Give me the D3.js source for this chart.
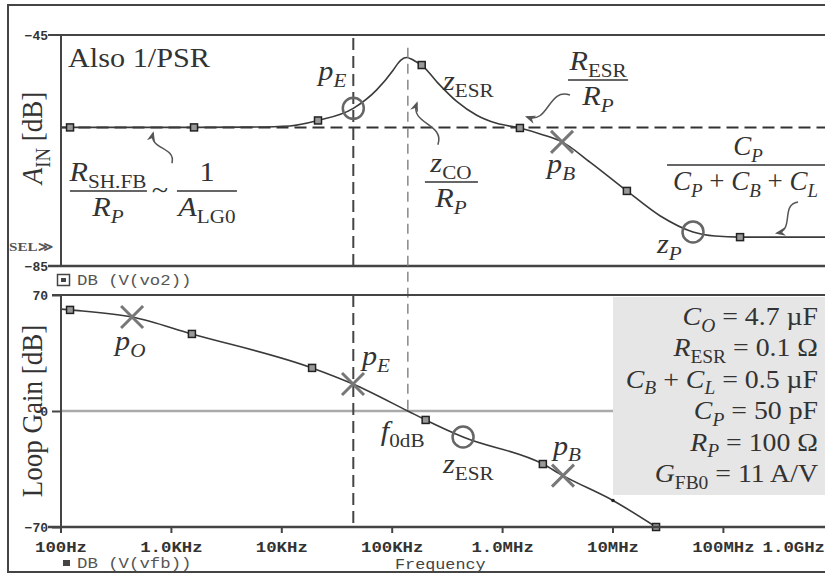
<!DOCTYPE html>
<html>
<head>
<meta charset="utf-8">
<script src="https://cdn.jsdelivr.net/npm/d3@7"></script>
<style>
  body { margin: 0; background: #fff; }
  svg { display: block; }
</style>
</head>
<body>
<svg id="chart" width="825" height="574"></svg>
<script>
// ---- frequency axis ----
const freqTicks = [1e2, 1e3, 1e4, 1e5, 1e6, 1e7, 1e8, 1e9];
const freqTickLabels = ["100Hz", "1.0KHz", "10KHz", "100KHz", "1.0MHz", "10MHz", "100MHz", "1.0GHz"];

// ---- A_IN (also 1/PSR), dB ----
const ainFreq = [100, 122, 1620, 5000, 12000, 21500, 44900, 73100, 103000, 113000, 122000, 137000,
                 152000, 165000, 187000, 256000, 388000, 589000, 893000, 1450000, 2360000, 3490000,
                 6250000, 13500000, 26900000, 53600000, 84800000, 143000000, 1e9];
const ainDb = [-61, -61, -61, -60.95, -60.75, -59.8, -57.7, -54.5, -51.1, -50.0, -49.3, -48.9,
               -49.2, -49.6, -50.2, -53.1, -56.5, -58.9, -60.3, -61.1, -62.3, -63.5,
               -67, -72, -76.3, -79.1, -79.8, -80, -80];
const ainSquareIdx = [1, 2, 5, 14, 19, 23, 27];
const ainCircleIdx = [6, 25];
const ainCrossIdx = [21];
const ainTicks = [-45, -85];
const ainRefDb = -61;

// ---- loop gain, dB ----
const lgFreq = [100, 122, 445, 1550, 19000, 44600, 140000, 203000, 443000, 2340000, 3560000, 10100000, 24800000];
const lgDb = [61.5, 61, 56.7, 46.5, 26, 16.3, 0, -5.4, -15.7, -32, -39, -54, -70];
const lgSquareIdx = [1, 3, 4, 7, 9, 12];
const lgDotIdx = [11];
const lgCircleIdx = [8];
const lgCrossIdx = [2, 5, 10];
const lgTicks = [70, 0, -70];

// frequencies of the two vertical guides
const fPE = 44900;
const f0dB = 140000;

// circuit parameters listed in the shaded box
const paramRows = [
  [["C", "i"], ["O", "si"], [" = 4.7 µF", "r"]],
  [["R", "i"], ["ESR", "sr"], [" = 0.1 Ω", "r"]],
  [["C", "i"], ["B", "si"], [" + ", "r"], ["C", "i"], ["L", "si"], [" = 0.5 µF", "r"]],
  [["C", "i"], ["P", "si"], [" = 50 pF", "r"]],
  [["R", "i"], ["P", "si"], [" = 100 Ω", "r"]],
  [["G", "i"], ["FB0", "sr"], [" = 11 A/V", "r"]]
];

// ---------------------------------------------------------------
const svg = d3.select("#chart");
const SERIF = "'Liberation Serif', 'Times New Roman', serif";
const MONO = "'Liberation Mono', 'Courier New', monospace";
const SX = 1.12;       // horizontal text stretch
const INK = "#333";

const x = d3.scaleLog().domain([1e2, 1e9]).range([60.5, 833.3]);
const yT = d3.scaleLinear().domain([-85, -45]).range([266, 35]);
const yB = d3.scaleLinear().domain([-70, 70]).range([527, 295]);

svg.append("rect").attr("width", 825).attr("height", 574).attr("fill", "#fff");

const defs = svg.append("defs");
defs.append("clipPath").attr("id", "clipB")
  .append("rect").attr("x", 61).attr("y", 295).attr("width", 780).attr("height", 232);
defs.append("clipPath").attr("id", "clipT")
  .append("rect").attr("x", 61).attr("y", 35).attr("width", 780).attr("height", 231);
defs.append("marker").attr("id", "arrow")
  .attr("viewBox", "0 0 10 10").attr("refX", 8).attr("refY", 5)
  .attr("markerWidth", 7).attr("markerHeight", 7).attr("orient", "auto-start-reverse")
  .append("path").attr("d", "M0,1 L10,5 L0,9 L3,5 Z").attr("fill", "#555");

// math-style text: parts = [[text, kind]], kind i / r / si / sr
function mathText(parent, px, py, parts, opt = {}) {
  const size = opt.size || 27;
  const sx = opt.sx || SX;
  const t = parent.append("text")
    .attr("transform", opt.transform || `translate(${px},${py}) scale(${sx},1)`)
    .attr("text-anchor", opt.anchor || "start")
    .style("font-family", SERIF).style("font-size", size + "px")
    .attr("fill", opt.fill || INK);
  let sub = false;
  parts.forEach(([s, kind]) => {
    const isSub = kind[0] === "s";
    const ts = t.append("tspan").text(s)
      .style("font-style", kind.endsWith("i") ? "italic" : "normal")
      .style("font-size", (isSub ? size * 0.7 : size) + "px");
    if (isSub !== sub) { ts.attr("dy", isSub ? size * 0.25 : -size * 0.25); sub = isSub; }
  });
  return t;
}

function fraction(parent, cx, ly, x0, x1, num, den, opt = {}) {
  mathText(parent, cx, ly - 10, num, { anchor: "middle", sx: opt.sx });
  mathText(parent, opt.denX !== undefined ? opt.denX : cx, ly + 25, den,
           { anchor: opt.denX !== undefined ? "start" : "middle", sx: opt.sx });
  parent.append("line").attr("x1", x0).attr("x2", x1).attr("y1", ly).attr("y2", ly)
    .attr("stroke", INK).attr("stroke-width", 1.6);
}

function squiggle(parent, p0, p1) {
  const dx = p1[0] - p0[0], dy = p1[1] - p0[1];
  const L = Math.hypot(dx, dy), nx = -dy / L, ny = dx / L, w = L * 0.35;
  const c1 = [p0[0] + dx / 3 + nx * w, p0[1] + dy / 3 + ny * w];
  const c2 = [p0[0] + 2 * dx / 3 - nx * w, p0[1] + 2 * dy / 3 - ny * w];
  parent.append("path")
    .attr("d", `M${p0[0]},${p0[1]} C${c1[0]},${c1[1]} ${c2[0]},${c2[1]} ${p1[0]},${p1[1]}`)
    .attr("fill", "none").attr("stroke", "#555").attr("stroke-width", 1.5)
    .attr("marker-end", "url(#arrow)");
}

function crossMark(parent, cx, cy) {
  const s = 11;
  parent.append("path")
    .attr("d", `M${cx - s},${cy - s}L${cx + s},${cy + s}M${cx - s},${cy + s}L${cx + s},${cy - s}`)
    .attr("stroke", "#777").attr("stroke-width", 3).attr("fill", "none");
}
function circleMark(parent, cx, cy) {
  parent.append("circle").attr("cx", cx).attr("cy", cy).attr("r", 10.5)
    .attr("fill", "none").attr("stroke", "#666").attr("stroke-width", 2.5);
}
function squareMark(parent, cx, cy) {
  parent.append("rect").attr("x", cx - 3.5).attr("y", cy - 3.5).attr("width", 7).attr("height", 7)
    .attr("fill", "#999").attr("stroke", "#222").attr("stroke-width", 1.5);
}

// ---- outer frame ----
svg.append("path").attr("d", "M830,5 H8 V572 H830")
  .attr("stroke", "#444").attr("stroke-width", 2).attr("fill", "none");

// ================= upper panel : A_IN =================
const gTop = svg.append("g");

// reference (dashed) level
gTop.append("line").attr("x1", x(1e2)).attr("x2", 830).attr("y1", yT(ainRefDb)).attr("y2", yT(ainRefDb))
  .attr("stroke", "#333").attr("stroke-width", 2).attr("stroke-dasharray", "12,6");

// vertical guides
gTop.append("line").attr("x1", x(fPE)).attr("x2", x(fPE)).attr("y1", yT(-45) + 3).attr("y2", yT(-85))
  .attr("stroke", "#444").attr("stroke-width", 2).attr("stroke-dasharray", "12,6");
svg.append("line").attr("x1", x(f0dB)).attr("x2", x(f0dB)).attr("y1", yT(-47.2)).attr("y2", yB(0))
  .attr("stroke", "#888").attr("stroke-width", 1.5).attr("stroke-dasharray", "10,6");

const ainPts = ainFreq.map((f, i) => [x(f), yT(ainDb[i])]);
gTop.append("path").datum(ainPts).attr("clip-path", "url(#clipT)")
  .attr("d", d3.line().curve(d3.curveMonotoneX))
  .attr("fill", "none").attr("stroke", "#3a3a3a").attr("stroke-width", 1.6);
ainSquareIdx.forEach(i => squareMark(gTop, ainPts[i][0], ainPts[i][1]));
ainCircleIdx.forEach(i => circleMark(gTop, ainPts[i][0], ainPts[i][1]));
ainCrossIdx.forEach(i => crossMark(gTop, ainPts[i][0], ainPts[i][1]));

// panel borders and y ticks
gTop.append("line").attr("x1", 48).attr("x2", 830).attr("y1", yT(-45)).attr("y2", yT(-45))
  .attr("stroke", "#444").attr("stroke-width", 2);
gTop.append("line").attr("x1", 48).attr("x2", 830).attr("y1", yT(-85)).attr("y2", yT(-85))
  .attr("stroke", "#444").attr("stroke-width", 2.5);
gTop.append("line").attr("x1", 61).attr("x2", 61).attr("y1", yT(-45)).attr("y2", yT(-85))
  .attr("stroke", "#444").attr("stroke-width", 2);
const yAxT = gTop.append("g").attr("transform", "translate(61,0)")
  .call(d3.axisLeft(yT).tickValues(ainTicks).tickSize(0).tickPadding(13).tickFormat(d3.format("d")));
yAxT.select(".domain").remove();
yAxT.selectAll("text").style("font-family", MONO).style("font-size", "13px").style("font-weight", "bold")
  .attr("fill", "#333").attr("dy", "0.35em");
gTop.append("text").attr("transform", `translate(9,251) scale(${SX},1)`).text("SEL≫")
  .style("font-family", SERIF).style("font-size", "13.5px").style("font-weight", "bold").attr("fill", "#555");

// axis title
mathText(gTop, 0, 0, [["A", "i"], ["IN", "sr"], [" [dB]", "r"]],
  { anchor: "middle", transform: `translate(42,138) scale(${SX},1) rotate(-90)` });

// annotations
mathText(gTop, 68, 67, [["Also 1/PSR", "r"]]);
const pE = ainPts[ainCircleIdx[0]];
mathText(gTop, pE[0] - 35, pE[1] - 28, [["p", "i"], ["E", "si"]]);
mathText(gTop, x(292e3), yT(-54.5), [["z", "i"], ["ESR", "sr"]]);
fraction(gTop, x(7.4e6), yT(-52.8), x(7.4e6) - 30, x(7.4e6) + 30,
  [["R", "i"], ["ESR", "sr"]], [["R", "i"], ["P", "si"]]);
squiggle(gTop, [x(4.12e6), yT(-55.4)], [x(1.68e6), yT(-59.2)]);

fraction(gTop, x(269), yT(-72), x(269) - 38, x(269) + 39,
  [["R", "i"], ["SH.FB", "sr"]], [["R", "i"], ["P", "si"]]);
mathText(gTop, x(796), yT(-72) + 8, [["~", "r"]], { anchor: "middle" });
fraction(gTop, x(2120), yT(-72), x(2120) - 30, x(2120) + 30,
  [["1", "r"]], [["A", "i"], ["LG0", "sr"]]);
squiggle(gTop, [x(1023), yT(-67.2)], [x(689), yT(-62.0)]);

fraction(gTop, x(344e3), yT(-70.45), x(344e3) - 26, x(344e3) + 27,
  [["z", "i"], ["CO", "sr"]], [["R", "i"], ["P", "si"]]);
squiggle(gTop, [x(262e3), yT(-64.0)], [x(169e3), yT(-56.8)]);

const pBt = ainPts[ainCrossIdx[0]];
mathText(gTop, pBt[0] - 15, pBt[1] + 31, [["p", "i"], ["B", "si"]]);

fraction(gTop, x(168.8e6), yT(-67.5), x(31.2e6), 830,
  [["C", "i"], ["P", "si"]],
  [["C", "i"], ["P", "si"], [" + ", "r"], ["C", "i"], ["B", "si"], [" + ", "r"], ["C", "i"], ["L", "si"]],
  { denX: x(35.3e6), sx: 1.0 });
squiggle(gTop, [x(479e6), yT(-73.9)], [x(309e6), yT(-79.3)]);

const zP = ainPts[ainCircleIdx[1]];
mathText(gTop, zP[0] - 36, zP[1] + 21, [["z", "i"], ["P", "si"]]);

// legend for upper trace
svg.append("rect").attr("x", 57.5).attr("y", 274.5).attr("width", 12).attr("height", 11)
  .attr("fill", "none").attr("stroke", "#444").attr("stroke-width", 1.5);
svg.append("rect").attr("x", 61).attr("y", 278).attr("width", 5).attr("height", 4).attr("fill", "#444");
svg.append("text").attr("transform", `translate(77,285) scale(${SX},1)`).text("DB (V(vo2))")
  .style("font-family", MONO).style("font-size", "15.5px").attr("fill", "#555");

// ================= lower panel : loop gain =================
const gBot = svg.append("g");

// parameter box
gBot.append("rect").attr("x", 613).attr("y", 297).attr("width", 220).attr("height", 198).attr("fill", "#e6e6e6");

// 0 dB line
gBot.append("line").attr("x1", 61).attr("x2", 613).attr("y1", yB(0)).attr("y2", yB(0))
  .attr("stroke", "#aaa").attr("stroke-width", 2.5);

// p_E guide
gBot.append("line").attr("x1", x(fPE)).attr("x2", x(fPE)).attr("y1", yB(70)).attr("y2", yB(-70))
  .attr("stroke", "#444").attr("stroke-width", 2).attr("stroke-dasharray", "12,6");

const lgPts = lgFreq.map((f, i) => [x(f), yB(lgDb[i])]);
gBot.append("path").datum(lgPts).attr("clip-path", "url(#clipB)")
  .attr("d", d3.line().curve(d3.curveMonotoneX))
  .attr("fill", "none").attr("stroke", "#3a3a3a").attr("stroke-width", 1.6);
lgSquareIdx.forEach(i => squareMark(gBot, lgPts[i][0], lgPts[i][1]));
lgDotIdx.forEach(i => gBot.append("circle").attr("cx", lgPts[i][0]).attr("cy", lgPts[i][1]).attr("r", 1.8).attr("fill", "#222"));
lgCircleIdx.forEach(i => circleMark(gBot, lgPts[i][0], lgPts[i][1]));
lgCrossIdx.forEach(i => crossMark(gBot, lgPts[i][0], lgPts[i][1]));

// borders, ticks
gBot.append("line").attr("x1", 52).attr("x2", 830).attr("y1", yB(70)).attr("y2", yB(70))
  .attr("stroke", "#444").attr("stroke-width", 2);
gBot.append("line").attr("x1", 61).attr("x2", 61).attr("y1", yB(70)).attr("y2", yB(-70))
  .attr("stroke", "#444").attr("stroke-width", 2);
const yAxB = gBot.append("g").attr("transform", "translate(61,0)")
  .call(d3.axisLeft(yB).tickValues(lgTicks).tickSize(9).tickPadding(4).tickFormat(d3.format("d")));
yAxB.select(".domain").remove();
yAxB.selectAll("line").attr("stroke", "#444").attr("stroke-width", 2);
yAxB.selectAll("text").style("font-family", MONO).style("font-size", "13px").style("font-weight", "bold")
  .attr("fill", "#333").attr("dy", "0.35em");

const xAx = gBot.append("g").attr("transform", `translate(0,${yB(-70)})`)
  .call(d3.axisBottom(x).tickValues(freqTicks).tickSize(6).tickFormat((d, i) => freqTickLabels[i]));
xAx.select(".domain").remove();
xAx.selectAll("line").attr("stroke", "#444").attr("stroke-width", 2);
// the last label is pulled left so it stays inside the plot width
xAx.selectAll("text").attr("y", null).attr("dy", null)
  .attr("transform", (d, i) => `translate(${i === freqTicks.length - 1 ? -40 : 0},25) scale(${SX},1)`)
  .style("font-family", MONO).style("font-size", "15.5px").style("font-weight", "bold").attr("fill", "#333");
gBot.append("line").attr("x1", 48).attr("x2", 830).attr("y1", yB(-70)).attr("y2", yB(-70))
  .attr("stroke", "#444").attr("stroke-width", 2.5);

// axis title
mathText(gBot, 0, 0, [["Loop Gain [dB]", "r"]],
  { anchor: "middle", transform: `translate(42,411) scale(${SX},1) rotate(-90)` });

// annotations
const pO = lgPts[lgCrossIdx[0]];
mathText(gBot, pO[0] - 17, pO[1] + 33, [["p", "i"], ["O", "si"]]);
const pEb = lgPts[lgCrossIdx[1]];
mathText(gBot, pEb[0] + 9, pEb[1] - 19, [["p", "i"], ["E", "si"]]);
const c0 = lgPts[6];
mathText(gBot, c0[0] - 27, c0[1] + 29, [["f", "i"], ["0dB", "sr"]]);
const zE = lgPts[lgCircleIdx[0]];
mathText(gBot, zE[0] - 20, zE[1] + 36, [["z", "i"], ["ESR", "sr"]]);
const pBb = lgPts[lgCrossIdx[2]];
mathText(gBot, pBb[0] - 10, pBb[1] - 21, [["p", "i"], ["B", "si"]]);

paramRows.forEach((row, i) => mathText(gBot, 818, 325 + i * 31.4, row, { anchor: "end", size: 26, sx: 1.07 }));

// lower legend and axis caption
gBot.append("rect").attr("x", 63).attr("y", 560).attr("width", 7).attr("height", 6).attr("fill", "#444");
gBot.append("text").attr("transform", `translate(77,568) scale(${SX},1)`).text("DB (V(vfb))")
  .style("font-family", MONO).style("font-size", "15.5px").attr("fill", "#555");
gBot.append("text").attr("transform", `translate(395,569) scale(${SX},1)`).text("Frequency")
  .style("font-family", MONO).style("font-size", "15px").attr("fill", "#444");
</script>
</body>
</html>
